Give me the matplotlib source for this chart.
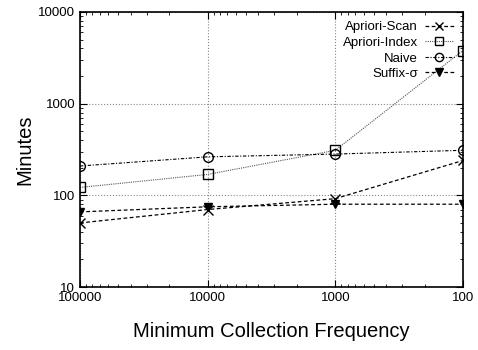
import matplotlib
matplotlib.use('Agg')
import matplotlib.pyplot as plt
from matplotlib.ticker import FixedLocator, LogLocator, NullFormatter

plt.rcParams['font.family'] = ['Liberation Sans', 'DejaVu Sans']

freq = [100000, 10000, 1000, 100]
apriori_scan = [50, 70, 92, 240]
apriori_index = [122, 169, 310, 3800]
naive = [209, 263, 282, 310]
suffix = [66, 75, 80, 80]

fig = plt.figure(figsize=(4.78, 3.5), dpi=100)
ax = fig.add_axes([80 / 478, 63 / 350, 383 / 478, 275 / 350])

ax.plot(freq, apriori_scan, color='black', lw=0.9, ls=(0, (3, 2)),
        marker='x', ms=7, mew=1, label='Apriori-Scan')
ax.plot(freq, apriori_index, color='#555555', lw=0.8, ls=(0, (1, 1)),
        marker='s', ms=7, mfc='none', mec='black', mew=1, label='Apriori-Index')
ax.plot(freq, naive, color='black', lw=0.8, ls=(0, (3, 1.5, 1, 1.5)),
        marker='o', ms=7, mfc='none', mec='black', mew=1, label='Naive')
ax.plot(freq, suffix, color='black', lw=0.9, ls=(0, (3, 2)),
        marker='v', ms=6, mfc='black', mec='black', label='Suffix-σ')

ax.set_xscale('log')
ax.set_yscale('log')
ax.set_xlim(100000, 100)
ax.set_ylim(10, 10000)

ax.xaxis.set_major_locator(FixedLocator(freq))
ax.set_xticklabels(['100000', '10000', '1000', '100'])
ax.xaxis.set_minor_locator(LogLocator(base=10, subs=range(2, 10)))
ax.xaxis.set_minor_formatter(NullFormatter())
ax.yaxis.set_major_locator(FixedLocator([10, 100, 1000, 10000]))
ax.set_yticklabels(['10', '100', '1000', '10000'])
ax.yaxis.set_minor_locator(LogLocator(base=10, subs=range(2, 10)))
ax.yaxis.set_minor_formatter(NullFormatter())

ax.tick_params(which='both', direction='in', top=True, right=True,
               labelsize=9.5, colors='black')
ax.tick_params(which='major', length=5)
ax.tick_params(which='minor', length=2.5)
ax.grid(True, which='major', ls=':', color='#888888', lw=0.8)
for s in ax.spines.values():
    s.set_linewidth(1.2)

ax.set_xlabel('Minimum Collection Frequency', fontsize=14.5, labelpad=13)
ax.set_ylabel('Minutes', fontsize=14.5, labelpad=3)

leg = ax.legend(loc='upper right', frameon=False, fontsize=9.5,
                markerfirst=False, handlelength=2.2, borderaxespad=0.3,
                labelspacing=0.25, handletextpad=0.5, markerscale=0.85)

fig.savefig('out.png', dpi=100)
